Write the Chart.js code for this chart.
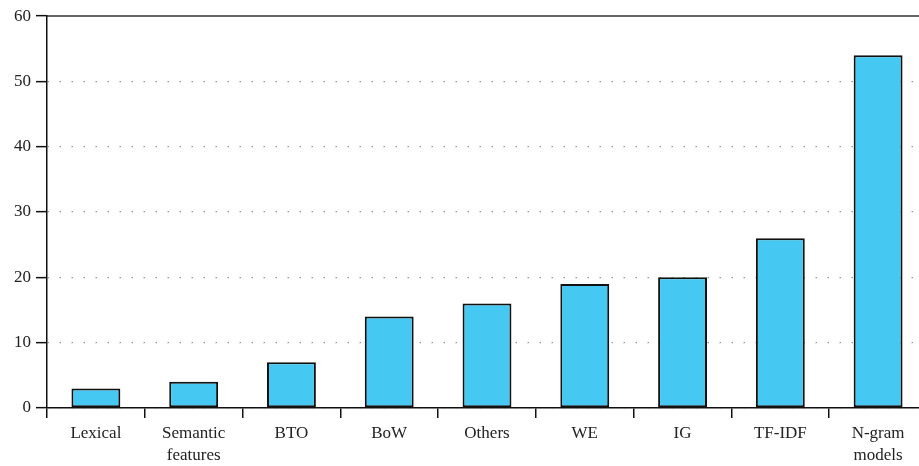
<!DOCTYPE html>
<html>
<head>
<meta charset="utf-8">
<script src="https://cdn.jsdelivr.net/npm/chart.js@4"></script>
<style>
  html, body { margin: 0; padding: 0; background: #fff; overflow: hidden; }
  #wrap { width: 930px; height: 466px; }
</style>
</head>
<body>
<div id="wrap"><canvas id="grafico"></canvas></div>
<script>
var categorias = ['Lexical', ['Semantic', 'features'], 'BTO', 'BoW', 'Others', 'WE', 'IG', 'TF-IDF', ['N-gram', 'models']];
var valores = [3, 4, 7, 14, 16, 19, 20, 26, 54];
var yMin = 0, yMax = 60, yPaso = 10;

var fuente = { family: '"Liberation Serif", serif', size: 17, lineHeight: 1.3 };

var ctx = document.getElementById('grafico').getContext('2d');
var myChart = new Chart(ctx, {
    type: 'bar',
    data: {
        labels: categorias,
        datasets: [{
            data: valores,
            backgroundColor: 'rgb(69, 200, 242)',
            borderColor: '#111',
            borderWidth: 2,
            borderSkipped: false,
            barPercentage: 0.5,
            categoryPercentage: 1.0
        }]
    },
    options: {
        responsive: true,
        maintainAspectRatio: false,
        animation: false,
        layout: { padding: { top: 16, right: 3, left: 0, bottom: 0 } },
        plugins: { legend: { display: false }, tooltip: { enabled: false } },
        scales: {
            x: {
                offset: true,
                grid: { drawOnChartArea: false, tickLength: 10, tickColor: '#111', lineWidth: 1.5 },
                border: { color: '#111', width: 1.5 },
                ticks: { color: '#222', font: fuente, padding: 4, maxRotation: 0, autoSkip: false },
                afterFit: function (s) { s.height = 58; }
            },
            xTop: {
                position: 'top',
                grid: { display: false },
                border: { color: '#666', width: 2 },
                ticks: { display: false },
                afterFit: function (s) { s.height = 0; }
            },
            y: {
                min: yMin,
                max: yMax,
                ticks: { stepSize: yPaso, color: '#222', font: fuente, padding: 5 },
                grid: { color: '#999', lineWidth: 1.3, tickLength: 11, tickColor: '#111', tickWidth: 1.5 },
                border: { color: '#111', width: 1.5, dash: [1.5, 10.5] },
                afterFit: function (s) { s.width = 47; }
            }
        }
    }
});
</script>
</body>
</html>
